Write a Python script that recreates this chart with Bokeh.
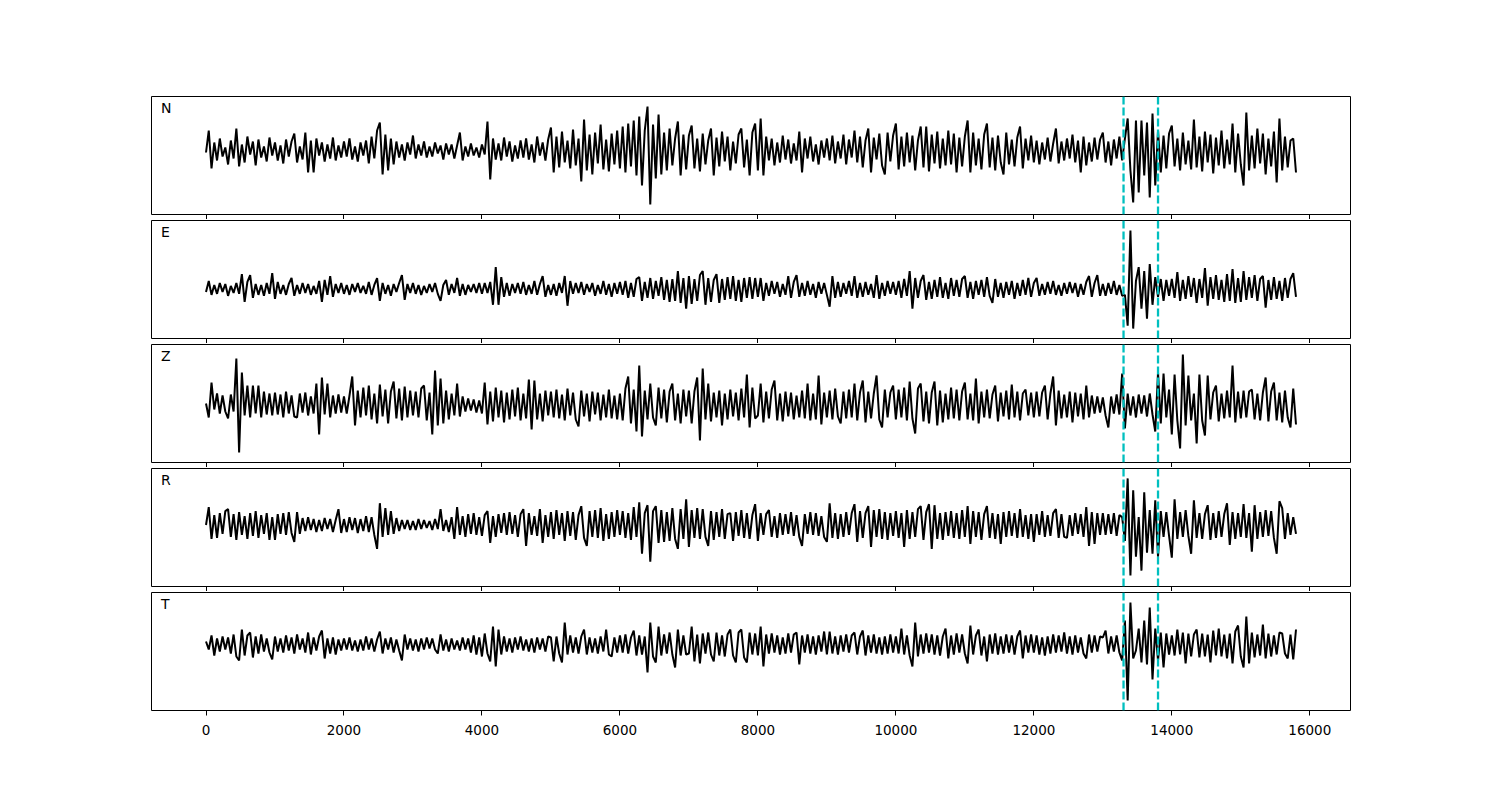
import numpy as np
from bokeh.plotting import figure
from bokeh.layouts import column
from bokeh.models import Range1d, Span, Label, FixedTicker
from bokeh.embed import file_html
from bokeh.resources import INLINE

# sample spacing of the traces (x units)
dt = 40

channels = ["N", "E", "Z", "R", "T"]

N_trace = [
    -2, 20, -18, 8, -10, 12, -6, 3, -14, 10, -8, 22, -16, 6, -12, 14, -4, 9, -15, 11, -7, 4, -11, 13, -5,
    8, -10, 5, -13, 11, -6, 9, 17, -12, 4, -9, 18, -22, 10, -22, 12, -5, 8, -11, 6, -8, 13, -10, 5, -7,
    9, -6, 12, -9, 4, -11, 8, -5, 10, -13, 14, -8, 20, 28, -24, 16, -20, 12, -14, 9, -7, 6, -10, 8, -4,
    15, -8, 6, -5, 9, -7, 4, -6, 8, -3, 5, -9, 7, -4, 6, -8, 5, 18, -10, 4, -6, 7, -5, 3, -7,
    6, -4, 29, -29, 12, -9, 7, -10, 13, -6, 9, -11, 5, -8, 10, -7, 12, -9, 6, -12, 14, -5, 8, -10, 11,
    23, -22, 14, -17, 19, -12, 10, -18, 21, -15, 12, -31, 31, -20, 16, -24, 18, -13, 26, -19, 11, -21, 17, -14, 20,
    -18, 24, -22, 27, -16, 30, -25, 34, -35, 20, 44, -54, 26, -28, 36, -24, 18, -20, 22, -15, 12, 29, -25, 16, -19,
    15, 25, -18, 12, -21, 17, -14, 10, 22, -25, 13, -16, 19, -11, 14, -20, 9, -13, 16, 22, -17, 11, -25, 18, 27,
    -20, 32, -25, 14, -10, 12, -15, 8, -12, 15, -9, 11, -13, 7, -10, 19, -22, 12, -8, 14, -11, 6, -14, 10, -7,
    12, -10, 15, -13, 9, -8, 16, -14, 11, -7, 20, -12, 14, -17, 10, 22, -22, 13, -9, 17, -15, -24, 18, -11, 15,
    27, -19, 14, -16, 18, -12, 15, -20, 10, 24, -17, 24, -21, 16, -13, 19, -18, 12, -15, 20, -14, 17, -22, 13, -16,
    14, 30, -22, 18, -15, 12, -19, 16, 27, -17, 13, -20, 15, -12, -24, 18, -14, 11, -16, 13, 24, -18, 12, -10, 15,
    -12, 10, -14, 8, -9, 13, -11, 7, 22, -13, 9, -10, 12, -8, 16, -12, 10, -22, 14, -15, 8, -11, 13, -9, 11,
    18, -12, 9, -15, 11, -8, 14, -10, 12, 32, -20, -52, 30, -42, 30, -25, 28, -47, 37, -35, 20, -22, 15, -18, 17,
    25, -16, 12, -20, 18, -14, 10, -19, 31, -17, 14, -21, 19, -12, 16, -23, 13, -15, 20, -18, 11, -14, 27, -22, 17,
    -14, -35, 38, -20, 15, -18, 22, -13, 17, -24, 12, -16, 19, -32, 32, -20, 14, -17, 10, 12, -22,
]

E_trace = [
    -3, 8, -6, 4, -5, 6, -3, 5, -7, 3, -4, 6, -5, 15, -13, 7, 14, -9, 5, -6, 4, -7, 6, -5, 16,
    -10, 7, -5, 4, -6, 5, 11, -7, 4, -5, 6, -4, 5, -6, 3, -5, 8, -13, 9, -6, 13, -8, 5, -4, 6,
    -5, 4, -6, 5, -3, 6, -4, 3, -5, 7, -6, 4, 11, -12, 6, -5, 4, -7, 5, -3, 6, 14, -11, 5, -4,
    6, -5, 4, -6, 3, -4, 5, -3, 6, -5, -12, 4, 9, -6, 5, -4, 11, -7, 5, -6, 4, -3, 5, -4, 6,
    -5, 6, -4, 7, -16, 22, -16, 12, -8, 6, -7, 5, -4, 6, -5, 7, -6, 4, -5, 8, -6, 5, 13, -8, 4,
    -6, 5, -7, 6, -4, 13, -17, 8, -5, 6, -4, 7, -6, 5, -3, 6, -7, 4, -5, 8, -6, 5, -8, 6, -5,
    7, -6, 8, -9, 6, -8, 10, 12, -12, 7, -9, 11, -10, 8, -7, 12, -11, 9, -13, 10, -12, 18, -14, 11, -20,
    13, -15, 10, -12, 14, 18, -16, 11, -13, 9, 15, -14, 10, -11, 12, -10, 13, -12, 9, -13, 11, -9, 12, -10, 11,
    -8, 11, -12, 6, -7, 8, -5, 7, -8, 5, -6, 13, -9, 7, 14, -8, 6, -7, 8, -6, 5, -9, 7, -5, 6,
    -6, -18, 13, -9, 7, -8, 6, -5, 8, -7, 13, -9, 6, -8, 7, -6, 5, -9, 14, -10, 6, -7, 8, -5, 7,
    -6, 8, -9, 10, -7, 18, -20, 11, -9, 8, 14, -11, 7, -10, 9, -8, 12, -9, 6, -10, 11, -7, 9, -8, 10,
    13, -9, 7, -10, 8, -6, 9, -8, 12, -7, -14, 10, -8, 6, -9, 7, -6, 8, -10, 6, -7, 9, -6, 11, -8,
    6, 11, -7, 5, -6, 7, -5, 8, -6, 4, -7, 6, -5, 7, -4, 6, -8, 5, -6, 7, 13, -8, 6, 14, -7,
    5, -7, 6, -5, 8, -6, 4, -7, -6, -37, 59, -40, 8, 22, -20, 18, -30, 25, -16, 12, -8, 10, -12, 9, -7,
    10, -9, 17, -12, 9, -10, 13, -8, 11, -14, 10, -9, 21, -17, 12, -10, 14, -11, 9, -13, 15, -12, 20, -14, 11,
    -13, 18, -11, 12, -9, 14, -12, 10, 13, -19, 9, -11, 12, -10, 8, -12, 11, -9, 10, 16, -8,
]

Z_trace = [
    2, -12, 23, -4, 12, -8, 10, -6, -13, 11, -6, 47, -47, 33, -10, 20, -12, 20, -8, 20, -12, 14, -9, 12, -10,
    13, -9, 11, -12, 14, -8, 10, -11, -12, 12, -7, 13, -10, 9, -8, 22, -29, 28, -9, 22, -12, 10, -8, 11, -7,
    9, -8, 10, 29, -20, 15, -12, 18, -10, 20, -14, 12, -18, 21, -11, 16, -18, 14, 24, -13, 17, -15, 19, -12, 15,
    -10, 14, -12, 17, 20, -15, 13, -29, 35, -20, 27, -18, 15, -14, 12, -10, 22, -11, 9, -6, 7, -5, 6, -7, 5,
    -8, 23, -19, 14, -16, 18, -12, 15, -17, 13, -14, 16, -11, 18, -15, 12, -13, 26, -24, 25, -14, 12, -16, 15, -10,
    14, -12, 16, -13, 11, -15, 17, -10, 13, -14, -21, 15, -11, 12, -16, 14, -9, 13, -15, 11, -12, 16, -13, 10, -14,
    12, -15, 17, 29, -18, 16, -26, 40, -31, 15, -14, 22, -12, -20, 18, -13, 16, -17, 14, 22, -15, 12, -18, 16, -11,
    15, -18, 14, 28, -35, 37, -14, 22, -16, 13, -12, 15, -20, 12, -14, 16, -11, 13, -15, 17, -12, 31, -22, 18, -13,
    -10, 22, -17, 14, -13, 16, 25, -15, 12, -16, 14, -11, 13, -14, 10, -12, 15, -13, 22, -15, 12, -14, 30, -19, 13,
    -12, 15, -14, 17, -11, -18, 14, -13, 16, -12, 22, -15, 13, 25, -17, 14, -13, 12, 30, -14, -22, 16, -12, 13, 20,
    -14, 16, -12, 18, -15, 24, -13, -28, 17, 22, -16, 14, -18, 13, 24, -20, 15, -17, 12, -14, 18, -13, 16, -15, 14,
    23, -14, 12, -15, 27, -18, 14, -12, 16, -13, 11, 20, -16, 13, -11, 15, -14, 21, -12, 14, -15, 12, 16, -10, 13,
    -12, 14, -11, 13, 20, -14, 12, 29, -20, 15, -13, 11, -12, 14, -17, 13, -11, 12, -14, 20, -12, 10, -8, 9, -7,
    8, -10, -22, 9, -8, 11, -9, 32, -23, 12, -10, 9, -12, 11, -8, 10, -11, 12, -9, -26, 33, -18, 32, -12, 16,
    -29, 31, -15, -43, 51, -20, 30, -15, 12, -38, 31, -15, -30, 30, -14, 13, 20, -16, 12, -13, 15, -12, 40, -17, 14,
    -13, 15, -12, 14, 16, -14, 12, -15, 13, 28, -16, 14, 23, -15, 13, -17, 15, -12, -22, 17, -19,
]

R_trace = [
    0, 18, -14, 10, -13, 12, -9, 14, 16, -12, 11, -15, 13, -10, 9, -14, 12, -11, 14, -13, 10, -9, 12, -15, 8,
    -15, 11, -9, 12, -10, 13, -8, -17, 13, -9, 7, -6, 8, -5, 6, -7, 5, -6, 7, -4, 6, -7, 5, 16, -8,
    6, -7, 8, -5, 7, -8, 6, -6, 9, -7, 8, -10, -24, 22, -12, 17, -10, 14, -9, 7, -6, 5, -4, 5, -5,
    4, -5, 6, -4, 5, -3, 4, -5, 6, -4, 16, -6, 5, -7, 8, -14, 18, -10, 9, -12, 11, -9, 12, -10, 8,
    -11, 10, 14, -18, 9, -12, 11, -8, 12, -10, 13, -9, 10, -12, 11, 16, -21, 12, -10, 9, -11, 16, -18, 10, -12,
    13, -14, 15, -10, 12, -16, 14, -11, 13, -15, 10, 19, -13, -21, 14, -12, 15, -13, 17, -16, 11, -14, 13, -12, 15,
    -10, 14, -13, 12, -15, 18, -12, 23, -29, 12, 20, -37, 14, 19, -18, 15, -17, 13, -16, 17, -14, -24, 16, -14, 26,
    -22, 15, -13, 17, -14, 16, -12, -21, 14, -15, 13, -12, 16, -14, 11, 12, -16, 13, -11, 15, -13, 12, -14, 10, 21,
    -16, 12, -10, 11, 15, -12, 9, -13, 12, -10, 11, -9, 13, -11, 10, -12, -21, 11, -9, 13, -10, 12, -11, 9, -12,
    -17, 22, -13, 12, -14, 11, -12, 13, -10, 12, 21, -17, 14, -13, 12, 19, -22, 15, -12, 16, -14, 13, -15, 12, -11,
    14, -13, 12, -22, 15, -14, 13, -12, 16, 19, -15, 13, 21, -24, 20, -14, 12, -15, 13, -11, 14, -13, 12, -14, 15,
    -12, 19, -19, 14, -12, 13, -15, 11, 19, -13, 12, -14, 11, -19, 13, -12, 14, -11, 12, -13, 16, -12, 10, -14, 11,
    -17, 11, -10, 14, -12, 10, -11, 12, 16, -13, 11, -12, -13, 10, -11, 12, -9, 11, -12, 18, -21, 13, -19, 12, -10,
    12, -10, 11, -9, 12, -11, 10, 8, -16, 47, -51, 35, -32, 8, -46, 33, -28, 15, -29, 25, -32, 14, -12, 13, -11,
    -33, 26, -14, 13, -12, 15, -11, -29, 25, -13, 12, -14, 11, 20, -15, 12, -13, 14, -12, 11, 22, -20, 13, -14, 12,
    -12, 21, -13, 12, -27, 20, -14, 13, -12, 15, -11, 14, -13, -29, 24, 17, -14, 12, -10, 8, -9,
]

T_trace = [
    3, -5, 9, -11, 6, -7, 8, -5, 7, -9, 10, -12, -16, 15, -11, 9, 12, -13, 8, -9, 10, -7, 6, -8, -15,
    8, -7, 6, -8, 9, -6, 7, -9, 10, -5, 6, -8, 12, -10, 7, -6, 8, 14, -14, 6, -9, 7, -10, 5, -6,
    6, -5, 7, -6, 4, -7, 5, -6, 8, -5, 6, -7, 5, 13, -9, 6, -5, 7, -8, 5, -6, -16, 10, -5, 6,
    -6, 5, -7, 6, -5, 7, -4, 6, -5, -9, 10, -6, 5, -7, 6, -5, 4, -6, 7, -5, 6, -8, 9, -10, 7,
    -12, 11, -9, -17, 18, -22, 15, -10, 8, -7, 6, -8, 7, -5, 8, -6, 5, -7, 6, -8, 7, -5, 6, -7, 8,
    7, -17, 8, -9, -18, 22, -10, 9, -8, 7, -9, 8, 15, -10, 7, -8, 6, -9, 8, -7, 15, -10, -12, 7, -8,
    9, -8, 10, -9, 7, 14, -11, 9, -10, 8, -28, 22, -12, -18, 18, -11, 10, -9, 12, -10, -23, 15, -11, 9, -10,
    -9, 18, -17, 10, -19, 11, -9, 12, -10, -17, 12, -11, 9, -12, 10, 15, -11, -18, 12, 15, -13, -18, 12, -10, 11,
    -11, 18, -22, 10, -9, 11, -8, 9, -10, 7, -9, 11, -8, 10, 12, -20, 9, -8, 10, -9, 8, -10, 9, -7, 13,
    -10, 13, -9, 8, -10, 9, -7, 10, -8, 9, 12, -10, 8, 14, -11, 9, -8, 10, -9, 7, -10, 8, -9, 10, -8,
    8, -9, 16, -10, 9, -11, -22, 22, -12, 10, -9, 11, -8, 10, -10, 9, -11, 8, 16, -14, 9, -10, 11, -8, 10,
    -9, -19, 19, -10, 9, 15, -11, 8, -17, 10, -9, 11, -10, 8, -9, 10, -8, 9, -10, 8, 14, -14, 9, -8, 10,
    -8, 9, -10, 7, -11, 8, -9, 10, -8, 9, -7, 12, -9, 8, -10, 9, -8, 7, -9, -14, 10, -8, 9, -7, 8,
    7, 14, -9, 8, -7, 9, -8, -16, 24, -56, 42, -14, -6, 16, -18, 24, -20, 37, -35, 16, -16, 12, -23, 11, -10,
    9, -11, 15, -10, 12, -19, 11, -12, 10, 15, -13, 11, -12, 10, -18, 14, -11, 16, -12, 10, -14, 11, -19, 13, 19,
    -12, -23, 28, -19, 12, -13, 10, -11, 20, -14, 11, -12, 9, -10, 12, 11, -9, -14, 10, -15, 15,
]

traces = [N_trace, E_trace, Z_trace, R_trace, T_trace]
y_lows = [-64, -50, -57, -62, -66]
y_highs = [54, 69, 61, 57, 52]
picks = [13300, 13800]
xticks = [0, 2000, 4000, 6000, 8000, 10000, 12000, 14000, 16000]
x_start, x_end = -790, 16590

FRAME_W, FRAME_H = 1199, 118
FONT = "DejaVu Sans"

figs = []
for k, (ch, tr) in enumerate(zip(channels, traces)):
    last = (k == len(channels) - 1)
    p = figure(
        output_backend="svg", toolbar_location=None,
        frame_width=FRAME_W, frame_height=FRAME_H,
        x_range=Range1d(x_start, x_end),
        y_range=Range1d(y_lows[k], y_highs[k]),
        y_axis_location=None,
        min_border_left=151, min_border_right=8,
        min_border_top=96 if k == 0 else 1,
        min_border_bottom=12 if last else 0,
        background_fill_color="white", border_fill_color="white",
    )
    p.xgrid.visible = False
    p.ygrid.visible = False
    p.outline_line_color = "black"
    p.outline_line_width = 1
    p.outline_line_alpha = 1

    ax = p.xaxis[0]
    ax.ticker = FixedTicker(ticks=xticks)
    ax.axis_line_color = None
    ax.major_tick_in = 0
    ax.major_tick_out = 5
    ax.major_tick_line_color = "black"
    ax.major_tick_line_width = 1
    ax.minor_tick_in = 0
    ax.minor_tick_out = 0
    if last:
        ax.major_label_text_font = FONT
        ax.major_label_text_font_size = "13.5px"
        ax.major_label_text_color = "black"
        ax.major_label_standoff = 9
    else:
        ax.major_label_text_font_size = "0px"
        ax.major_label_text_color = None
        ax.major_label_standoff = 0

    x = np.arange(len(tr)) * dt
    p.line(x, np.array(tr, dtype=float), line_color="black", line_width=2.0)

    for t in picks:
        p.add_layout(Span(location=t, dimension="height", line_color="#00bfbf",
                          line_width=2.3, line_dash="8 3"))

    yspan = y_highs[k] - y_lows[k]
    p.add_layout(Label(
        x=x_start + (x_end - x_start) * 9.5 / FRAME_W,
        y=y_highs[k] - yspan * 11.0 / FRAME_H,
        text=ch, text_font=FONT, text_font_size="14px", text_color="black",
        text_baseline="alphabetic", text_align="left",
    ))
    figs.append(p)

layout = column(*figs, spacing=0)
open("out.html", "w").write(file_html(layout, INLINE))
